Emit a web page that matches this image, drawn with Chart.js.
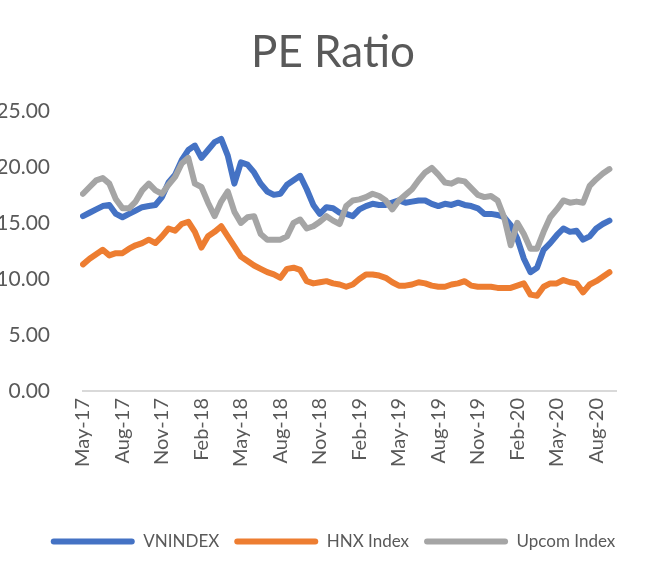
<!DOCTYPE html>
<html>
<head>
<meta charset="utf-8">
<script src="https://cdn.jsdelivr.net/npm/chart.js@4.4.0/dist/chart.umd.min.js"></script>
<style>
  html, body { margin: 0; padding: 0; background: #ffffff; }
  #wrap { width: 647px; height: 582px; position: relative; }
</style>
</head>
<body>
<div id="wrap"><canvas id="c" width="647" height="582"></canvas></div>
<script>
// Half-monthly observation dates (May 2017 - Sep 2020)
const categories = [
  '2017-05-01','2017-05-16','2017-06-01','2017-06-16','2017-07-01','2017-07-16',
  '2017-08-01','2017-08-16','2017-09-01','2017-09-16','2017-10-01','2017-10-16',
  '2017-11-01','2017-11-16','2017-12-01','2017-12-16','2018-01-01','2018-01-16',
  '2018-02-01','2018-02-16','2018-03-01','2018-03-16','2018-04-01','2018-04-16',
  '2018-05-01','2018-05-16','2018-06-01','2018-06-16','2018-07-01','2018-07-16',
  '2018-08-01','2018-08-16','2018-09-01','2018-09-16','2018-10-01','2018-10-16',
  '2018-11-01','2018-11-16','2018-12-01','2018-12-16','2019-01-01','2019-01-16',
  '2019-02-01','2019-02-16','2019-03-01','2019-03-16','2019-04-01','2019-04-16',
  '2019-05-01','2019-05-16','2019-06-01','2019-06-16','2019-07-01','2019-07-16',
  '2019-08-01','2019-08-16','2019-09-01','2019-09-16','2019-10-01','2019-10-16',
  '2019-11-01','2019-11-16','2019-12-01','2019-12-16','2020-01-01','2020-01-16',
  '2020-02-01','2020-02-16','2020-03-01','2020-03-16','2020-04-01','2020-04-16',
  '2020-05-01','2020-05-16','2020-06-01','2020-06-16','2020-07-01','2020-07-16',
  '2020-08-01','2020-08-16','2020-09-01','2020-09-16'
];

// Quarterly tick labels shown on the x axis
const tickLabels = ['May-17','Aug-17','Nov-17','Feb-18','May-18','Aug-18','Nov-18',
                    'Feb-19','May-19','Aug-19','Nov-19','Feb-20','May-20','Aug-20'];

const yTicks = [0, 5, 10, 15, 20, 25];

const vnindex = [
  15.6,15.9,16.2,16.5,16.6,15.8,15.5,15.8,16.1,16.4,16.5,16.6,
  17.3,18.6,19.3,20.6,21.5,21.9,20.8,21.5,22.2,22.5,21.0,18.5,
  20.4,20.2,19.5,18.5,17.8,17.5,17.6,18.4,18.8,19.2,18.0,16.6,
  15.8,16.4,16.3,15.9,15.8,15.6,16.2,16.5,16.7,16.6,16.6,16.8,
  17.0,16.8,16.9,17.0,17.0,16.7,16.5,16.7,16.6,16.8,16.6,16.5,
  16.3,15.8,15.8,15.7,15.5,14.8,13.6,11.8,10.6,11.0,12.6,13.2,
  13.9,14.5,14.2,14.3,13.5,13.8,14.5,14.9,15.2
];

const hnxIndex = [
  11.3,11.8,12.2,12.6,12.1,12.3,12.3,12.7,13.0,13.2,13.5,13.2,
  13.8,14.5,14.3,14.9,15.1,14.2,12.8,13.8,14.2,14.7,13.8,12.9,
  12.0,11.6,11.2,10.9,10.6,10.4,10.1,10.9,11.0,10.8,9.8,9.6,
  9.7,9.8,9.6,9.5,9.3,9.5,10.0,10.4,10.4,10.3,10.1,9.7,
  9.4,9.4,9.5,9.7,9.6,9.4,9.3,9.3,9.5,9.6,9.8,9.4,
  9.3,9.3,9.3,9.2,9.2,9.2,9.4,9.6,8.6,8.5,9.3,9.6,
  9.6,9.9,9.7,9.6,8.8,9.5,9.8,10.2,10.6
];

const upcomIndex = [
  17.6,18.2,18.8,19.0,18.5,17.1,16.3,16.3,16.9,17.9,18.5,17.9,
  17.6,18.4,19.1,20.3,20.8,18.5,18.2,16.8,15.6,16.9,17.8,16.0,
  15.0,15.5,15.6,14.0,13.5,13.5,13.5,13.8,15.0,15.3,14.5,14.7,
  15.1,15.6,15.2,14.9,16.5,17.0,17.1,17.3,17.6,17.4,17.0,16.2,
  17.0,17.5,18.0,18.8,19.5,19.9,19.3,18.6,18.5,18.8,18.7,18.1,
  17.5,17.3,17.4,17.0,15.5,13.0,15.0,14.0,12.7,12.7,14.2,15.5,
  16.2,17.0,16.8,16.9,16.8,18.3,18.9,19.4,19.8
];

const seriesNames = ['VNINDEX', 'HNX Index', 'Upcom Index'];
const seriesColors = ['#4472C4', '#ED7D31', '#A5A5A5'];

const FONT = 'Lato, "Open Sans", sans-serif';
const TEXT = '#595959';

function mkSet(i, data, order) {
  return {
    label: seriesNames[i],
    data: data,
    borderColor: seriesColors[i],
    backgroundColor: seriesColors[i],
    borderWidth: 6,
    pointRadius: 0,
    pointHoverRadius: 0,
    tension: 0,
    borderJoinStyle: 'round',
    borderCapStyle: 'round',
    fill: false,
    order: order
  };
}

new Chart(document.getElementById('c'), {
  type: 'line',
  data: {
    labels: categories,
    datasets: [
      mkSet(0, vnindex, 3),
      mkSet(1, hnxIndex, 2),
      mkSet(2, upcomIndex, 1)
    ]
  },
  options: {
    responsive: false,
    animation: false,
    events: [],
    layout: { padding: { top: 0, left: 0, right: -19, bottom: 22 } },
    plugins: {
      title: {
        display: true,
        text: 'PE Ratio',
        color: TEXT,
        font: { family: FONT, size: 44, weight: 'normal' },
        padding: { top: 26, bottom: 32 }
      },
      legend: {
        display: true,
        position: 'bottom',
        labels: {
          color: TEXT,
          font: { family: FONT, size: 17 },
          boxWidth: 84,
          boxHeight: 6,
          useBorderRadius: true,
          borderRadius: 3,
          padding: 15,
          sort: (a, b) => a.datasetIndex - b.datasetIndex,
          generateLabels: (chart) => {
            const items = Chart.defaults.plugins.legend.labels.generateLabels(chart);
            items.forEach(it => { it.lineWidth = 0; it.strokeStyle = 'rgba(0,0,0,0)'; });
            return items;
          }
        }
      },
      tooltip: { enabled: false }
    },
    scales: {
      x: {
        type: 'category',
        offset: false,
        grid: { display: true, drawOnChartArea: false, drawTicks: false },
        border: { display: true, color: '#D9D9D9', width: 2 },
        ticks: {
          autoSkip: false,
          minRotation: 90,
          maxRotation: 90,
          padding: 7,
          color: TEXT,
          font: { family: FONT, size: 20 },
          callback: function (value, index) {
            return index % 6 === 0 && tickLabels[index / 6] ? tickLabels[index / 6] : '';
          }
        },
        afterFit: (scale) => { scale.height = 127; }
      },
      y: {
        position: 'left',
        min: yTicks[0],
        max: yTicks[yTicks.length - 1],
        grid: { display: false },
        border: { display: false },
        afterBuildTicks: (scale) => { scale.ticks = yTicks.map(v => ({ value: v })); },
        ticks: {
          padding: 25,
          color: TEXT,
          font: { family: FONT, size: 21 },
          callback: (v) => Number(v).toFixed(2)
        },
        afterFit: (scale) => { scale.width = 83; }
      },
      yRight: {
        position: 'right',
        display: true,
        min: 0,
        max: 25,
        grid: { display: false },
        border: { display: false },
        ticks: { display: false },
        afterFit: (scale) => { scale.width = 40; }
      }
    }
  }
});
</script>
</body>
</html>
